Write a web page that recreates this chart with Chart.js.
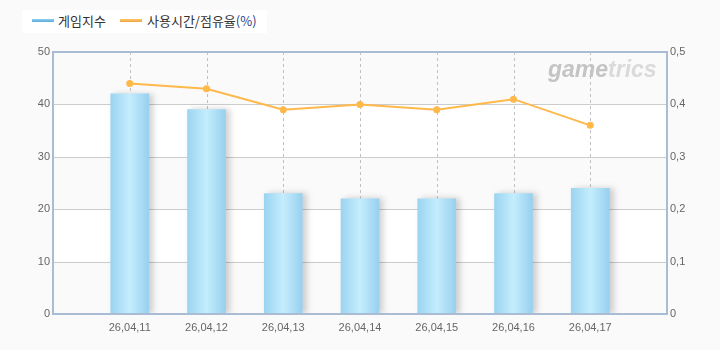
<!DOCTYPE html>
<html>
<head>
<meta charset="utf-8">
<script src="https://cdn.jsdelivr.net/npm/chart.js@4"></script>
<style>
    html, body { margin: 0; padding: 0; background: #fafafa; }
    #wrap { position: relative; width: 720px; height: 350px; }
    #legend {
        position: absolute; left: 22px; top: 10px; width: 245px; height: 23px;
        background: #fff; font: 13px "Noto Sans CJK KR", "DejaVu Sans", sans-serif; color: #333;
    }
    #legend .item { position: absolute; top: 2px; line-height: 18px; }
    #legend .swatch { position: absolute; top: 9px; width: 22px; height: 3px; }
    #legend .pct { color: #2b3f8c; }
</style>
</head>
<body>
<div id="wrap">
    <canvas id="chartCanvas" width="720" height="350"></canvas>
    <div id="legend">
        <span class="swatch" style="left:10px;background:linear-gradient(#8fd0f2,#5aa9d8)"></span>
        <span class="item" style="left:36px">게임지수</span>
        <span class="swatch" style="left:98px;background:linear-gradient(#ffc970,#f2a23a)"></span>
        <span class="item" style="left:125px">사용시간/점유율<span class="pct">(%)</span></span>
    </div>
</div>
<script>
// Data
const dates = ['26,04,11', '26,04,12', '26,04,13', '26,04,14', '26,04,15', '26,04,16', '26,04,17'];
const gameIndex = [42, 39, 23, 22, 22, 23, 24];
const usageShare = [0.44, 0.43, 0.39, 0.40, 0.39, 0.41, 0.36];

// Empty slots at both ends so the categories sit like the original
const labels = [''].concat(dates, ['']);
const padded = arr => [null].concat(arr, [null]);

const BAR_W = 38;
const BORDER = '#a9bcd3';

function barGradient(c) {
    const chart = c.chart;
    if (!chart.chartArea || c.dataIndex === undefined) return '#a8dcf5';
    const x = chart.scales.x.getPixelForValue(c.dataIndex);
    const g = chart.ctx.createLinearGradient(x - BAR_W / 2, 0, x + BAR_W / 2, 0);
    g.addColorStop(0, '#9bd4f1');
    g.addColorStop(0.5, '#c4edfd');
    g.addColorStop(1, '#98d0ef');
    return g;
}

const decorPlugin = {
    id: 'decor',
    beforeDatasetsDraw(chart) {
        const { ctx, chartArea: a, scales } = chart;
        ctx.save();
        ctx.fillStyle = '#ffffff';
        ctx.fillRect(a.left, a.top, a.right - a.left, a.bottom - a.top);
        // alternating bands
        ctx.fillStyle = '#fafafa';
        for (let v = 0; v < 50; v += 20) {
            const y1 = scales.y.getPixelForValue(v);
            const y2 = scales.y.getPixelForValue(v + 10);
            ctx.fillRect(a.left, y2, a.right - a.left, y1 - y2);
        }
        // horizontal grid
        ctx.strokeStyle = '#cccccc';
        ctx.lineWidth = 1;
        for (let v = 10; v < 50; v += 10) {
            const y = Math.round(scales.y.getPixelForValue(v)) + 0.5;
            ctx.beginPath(); ctx.moveTo(a.left, y); ctx.lineTo(a.right, y); ctx.stroke();
        }
        // vertical dashed grid
        ctx.strokeStyle = '#c0c0c0';
        ctx.setLineDash([3, 3]);
        for (let i = 1; i <= dates.length; i++) {
            const x = Math.round(scales.x.getPixelForValue(i)) + 0.5;
            ctx.beginPath(); ctx.moveTo(x, a.top); ctx.lineTo(x, a.bottom); ctx.stroke();
        }
        ctx.setLineDash([]);
        // watermark
        ctx.font = 'italic bold 23px "Liberation Sans", Arial, sans-serif';
        ctx.textBaseline = 'alphabetic';
        ctx.fillStyle = '#c4c4c4';
        ctx.fillText('game', 548, 77);
        const w = ctx.measureText('game').width;
        ctx.fillStyle = '#dadada';
        ctx.fillText('trics', 548 + w, 77);
        ctx.restore();
    },
    beforeDatasetDraw(chart, args) {
        if (args.meta.type !== 'bar') return;
        const ctx = chart.ctx;
        ctx.save();
        ctx.shadowColor = 'rgba(0,0,0,0.18)';
        ctx.shadowBlur = 6;
        ctx.shadowOffsetX = 4;
        ctx.shadowOffsetY = 0;
    },
    afterDatasetDraw(chart, args) {
        if (args.meta.type !== 'bar') return;
        chart.ctx.restore();
    },
    afterDraw(chart) {
        const { ctx, chartArea: a } = chart;
        ctx.save();
        ctx.strokeStyle = BORDER;
        ctx.lineWidth = 2;
        ctx.strokeRect(a.left, a.top, a.right - a.left, a.bottom - a.top);
        ctx.restore();
    }
};

const tickFont = { family: '"Liberation Sans", Arial, sans-serif', size: 11 };

new Chart(document.getElementById('chartCanvas'), {
    data: {
        labels: labels,
        datasets: [{
            type: 'line',
            label: '사용시간/점유율(%)',
            data: padded(usageShare),
            yAxisID: 'y1',
            borderColor: '#ffb84a',
            backgroundColor: '#ffb84a',
            borderWidth: 2,
            pointRadius: 2.5,
            pointHoverRadius: 2.5,
            tension: 0,
            order: 0
        }, {
            type: 'bar',
            label: '게임지수',
            data: padded(gameIndex),
            yAxisID: 'y',
            backgroundColor: barGradient,
            barThickness: BAR_W,
            borderWidth: 0,
            order: 1
        }]
    },
    options: {
        responsive: false,
        animation: false,
        layout: { padding: { top: 52, left: 0, right: 0, bottom: 0 } },
        plugins: { legend: { display: false }, tooltip: { enabled: false } },
        scales: {
            x: {
                type: 'category',
                offset: false,
                grid: { display: false, drawTicks: false, offset: false },
                border: { display: false },
                ticks: { color: '#666', font: tickFont, padding: 7, maxRotation: 0, autoSkip: false },
                afterFit: s => { s.height = 36; }
            },
            y: {
                position: 'left',
                min: 0, max: 50,
                grid: { display: false, drawTicks: false },
                border: { display: false },
                ticks: { stepSize: 10, color: '#666', font: tickFont, padding: 3 },
                afterFit: s => { s.width = 53; }
            },
            y1: {
                position: 'right',
                min: 0, max: 0.5,
                grid: { display: false, drawTicks: false },
                border: { display: false },
                ticks: {
                    stepSize: 0.1, color: '#666', font: tickFont, padding: 3,
                    callback: v => v === 0 ? '0' : v.toFixed(1).replace('.', ',')
                },
                afterFit: s => { s.width = 53; }
            }
        }
    },
    plugins: [decorPlugin]
});
</script>
</body>
</html>
